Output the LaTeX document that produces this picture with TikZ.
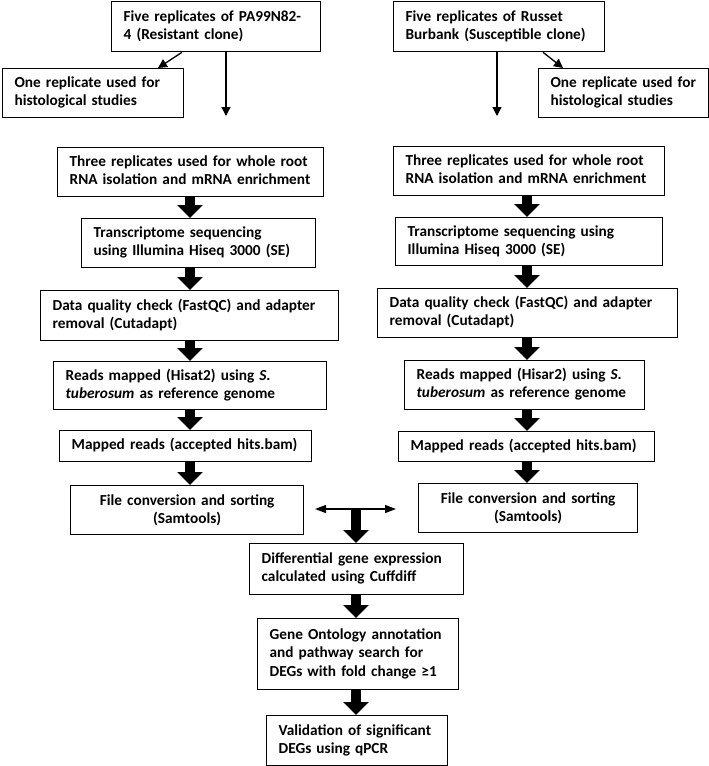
\documentclass[tikz,border=0pt]{standalone}
\usepackage{fontspec}
\setmainfont{Carlito}
\usetikzlibrary{arrows.meta}
\newcommand\LL[1]{\begin{tabular}{@{\hspace{12pt}}l@{}}#1\end{tabular}}
\begin{document}
\begin{tikzpicture}[x=1pt,y=-1pt,
  box/.style={draw, line width=1.3pt, anchor=north west, inner xsep=0pt, inner ysep=0pt, align=left,
    font=\bfseries\fontsize{15.3}{18.3}\selectfont},
  cbox/.style={box, align=center},
  fat/.style={line width=10pt, -{Triangle[width=25pt,length=13pt]}},
  thin/.style={line width=1.3pt, -{Triangle[width=9pt,length=9pt]}},
  both/.style={line width=1.3pt, {Triangle[width=8pt,length=11pt]}-{Triangle[width=8pt,length=11pt]}}]
\useasboundingbox (0,0) rectangle (709,766);
% top row
\node[box, text width=209pt, minimum height=50pt] (a1) at (111,1) {\LL{Five replicates of PA99N82-\\4 (Resistant clone)}};
\node[box, text width=181pt, minimum height=49pt] (a2) at (2,68) {\LL{One replicate used for\\histological studies}};
\node[box, text width=211pt, minimum height=50pt] (b1) at (393,1) {\LL{Five replicates of Russet\\Burbank (Susceptible clone)}};
\node[box, text width=170pt, minimum height=49pt] (b2) at (538,68) {\LL{One replicate used for\\histological studies}};
% left column
\node[box, text width=266pt, minimum height=49pt] (a3) at (57,147) {\LL{Three replicates used for whole root\\RNA isolation and mRNA enrichment}};
\node[box, text width=234pt, minimum height=49pt] (a4) at (81,218) {\LL{Transcriptome sequencing\\using Illumina Hiseq 3000 (SE)}};
\node[box, text width=298pt, minimum height=50pt] (a5) at (40,290) {\LL{Data quality check (FastQC) and adapter\\removal (Cutadapt)}};
\node[box, text width=273pt, minimum height=48pt] (a6) at (53,361) {\LL{Reads mapped (Hisat2) using \textit{S.}\\\textit{tuberosum} as reference genome}};
\node[box, text width=252pt, minimum height=31pt] (a7) at (59,430) {\LL{Mapped reads (accepted hits.bam)}};
\node[cbox, text width=233pt, minimum height=49pt] (a8) at (70,485) {File conversion and sorting\\(Samtools)};
% right column
\node[box, text width=271pt, minimum height=49pt] (b3) at (393,146) {\LL{Three replicates used for whole root\\RNA isolation and mRNA enrichment}};
\node[box, text width=267pt, minimum height=48pt] (b4) at (395,217) {\LL{Transcriptome sequencing using\\Illumina Hiseq 3000 (SE)}};
\node[box, text width=300pt, minimum height=49pt] (b5) at (377,288) {\LL{Data quality check (FastQC) and adapter\\removal (Cutadapt)}};
\node[box, text width=240pt, minimum height=49pt] (b6) at (404,360) {\LL{Reads mapped (Hisar2) using \textit{S.}\\\textit{tuberosum} as reference genome}};
\node[box, text width=256pt, minimum height=30pt] (b7) at (398,431) {\LL{Mapped reads (accepted hits.bam)}};
\node[cbox, text width=219pt, minimum height=49pt] (b8) at (418,483) {File conversion and sorting\\(Samtools)};
% centre column
\node[box, text width=214pt, minimum height=51pt] (d) at (249,543) {\LL{Differential gene expression\\calculated using Cuffdiff}};
\node[box, text width=201pt, minimum height=71pt] (g) at (257,618) {\LL{Gene Ontology annotation\\and pathway search for\\DEGs with fold change ≥1}};
\node[box, text width=181pt, minimum height=50pt] (v) at (266,715) {\LL{Validation of significant\\DEGs using qPCR}};
% helper coordinates
\coordinate (lx) at (190,0);
\coordinate (rx) at (527,0);
\coordinate (cx) at (356,0);
\coordinate (p1) at (182,0);
\coordinate (p2) at (158,0);
\coordinate (p3) at (226,116);
\coordinate (q1) at (543,0);
\coordinate (q2) at (563,0);
\coordinate (q3) at (497,116);
\coordinate (tj) at (356,509);
\coordinate (dl) at (315,509);
\coordinate (dr) at (396,509);
% thin arrows
\draw[thin] (a1.south -| p1) -- (a2.north -| p2);
\draw[thin] (a1.south -| p3) -- (p3);
\draw[thin] (b1.south -| q1) -- (b2.north -| q2);
\draw[thin] (b1.south -| q3) -- (q3);
% fat arrows left
\draw[fat] (a3.south -| lx) -- (a4.north -| lx);
\draw[fat] (a4.south -| lx) -- (a5.north -| lx);
\draw[fat] (a5.south -| lx) -- (a6.north -| lx);
\draw[fat] (a6.south -| lx) -- (a7.north -| lx);
\draw[fat] (a7.south -| lx) -- (a8.north -| lx);
% fat arrows right
\draw[fat] (b3.south -| rx) -- (b4.north -| rx);
\draw[fat] (b4.south -| rx) -- (b5.north -| rx);
\draw[fat] (b5.south -| rx) -- (b6.north -| rx);
\draw[fat] (b6.south -| rx) -- (b7.north -| rx);
\draw[fat] (b7.south -| rx) -- (b8.north -| rx);
% merge
\draw[both] (dl) -- (dr);
\draw[fat] (tj) -- (d.north -| tj);
\draw[fat] (d.south -| cx) -- (g.north -| cx);
\draw[fat] (g.south -| cx) -- (v.north -| cx);
\end{tikzpicture}
\end{document}
